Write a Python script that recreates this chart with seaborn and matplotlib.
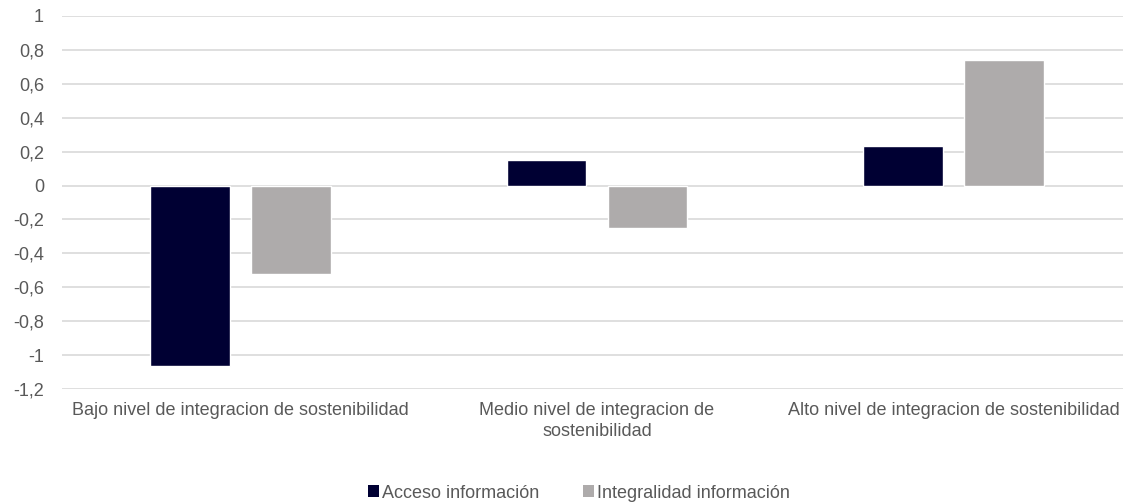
import pandas as pd
import seaborn as sns
import matplotlib.pyplot as plt
from matplotlib.patches import Patch


# DATA

categories = [
    "Bajo nivel de integracion de sostenibilidad",
    "Medio nivel de integracion de\nsostenibilidad",
    "Alto nivel de integracion de sostenibilidad",
]
series_names = ["Acceso información", "Integralidad información"]
acceso = [-1.065, 0.15, 0.23]
integralidad = [-0.52, -0.25, 0.74]
y_ticks = [1, 0.8, 0.6, 0.4, 0.2, 0, -0.2, -0.4, -0.6, -0.8, -1, -1.2]
y_tick_labels = ["1", "0,8", "0,6", "0,4", "0,2", "0", "-0,2", "-0,4",
                 "-0,6", "-0,8", "-1", "-1,2"]


# PLOT

def build_frame():
    df = pd.DataFrame({
        "Categoria": categories * 2,
        "Serie": [series_names[0]] * 3 + [series_names[1]] * 3,
        "Valor": acceso + integralidad,
    })
    return df


def plot_chart(df):
    sns.set_style("white")
    plt.rcParams["font.family"] = ["Liberation Sans", "DejaVu Sans"]
    text_color = "#595959"
    colors = ["#000033", "#AEABAB"]
    fs = 13

    fig = plt.figure(figsize=(11.23, 5.04), dpi=100)
    ax = fig.add_axes([62 / 1123, 1 - 389.3 / 504, 1070 / 1123, (389.3 - 15.7) / 504])

    sns.barplot(data=df, x="Categoria", y="Valor", hue="Serie",
                palette=colors, width=0.566, gap=0.21, ax=ax,
                legend=False, saturation=1, zorder=3)

    ax.set_ylim(-1.2, 1)
    ax.set_yticks(y_ticks)
    ax.set_yticklabels(y_tick_labels)
    ax.set_xlim(-0.5, 2.5)
    ax.grid(axis="y", color="#D9D9D9", linewidth=1.2, zorder=0)
    ax.set_axisbelow(True)
    for s in ax.spines.values():
        s.set_visible(False)
    ax.set_xlabel("")
    ax.set_ylabel("")
    ax.tick_params(axis="y", length=0, pad=13, labelsize=fs, labelcolor=text_color)
    ax.tick_params(axis="x", length=0, pad=9, labelsize=fs, labelcolor=text_color)
    for lbl in ax.get_xticklabels():
        lbl.set_linespacing(1.3)

    handles = [Patch(facecolor=c, edgecolor="none") for c in colors]
    fig.legend(handles, series_names, loc="center", bbox_to_anchor=(579 / 1123, 1 - 493 / 504),
               ncol=2, frameon=False, fontsize=fs, labelcolor=text_color,
               handlelength=0.6, handleheight=0.6, handletextpad=0.2, columnspacing=2.4)

    fig.savefig("out.png", dpi=100)


if __name__ == "__main__":
    plot_chart(build_frame())
